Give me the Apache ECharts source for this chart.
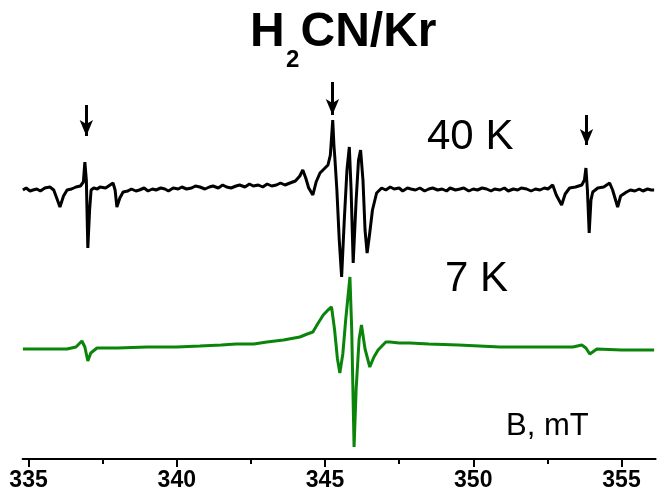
<!DOCTYPE html>
<html>
<head>
<meta charset="utf-8">
<script src="https://cdn.jsdelivr.net/npm/echarts@6/dist/echarts.min.js"></script>
<style>
html, body { margin: 0; padding: 0; background: #fff; }
#chart { width: 657px; height: 493px; }
</style>
</head>
<body>
<div id="chart"></div>
<script>
// magnetic field, mT
var majorTicks = [335, 340, 345, 350, 355];
var minorTicks = [337.5, 342.5, 347.5, 352.5];

// 40 K spectrum (black), amplitude relative to its baseline, a.u.
var blackB = [334.81, 334.92, 335.05, 335.15, 335.28, 335.4, 335.55, 335.72, 335.85, 335.95, 336.06, 336.18, 336.3, 336.45, 336.6, 336.75, 336.85, 336.9, 336.95, 337.0, 337.06, 337.11, 337.2, 337.32, 337.41, 337.6, 337.75, 337.85, 337.92, 337.98, 338.08, 338.19, 338.35,
  338.47, 338.62, 338.74, 338.9, 339.03, 339.18, 339.3, 339.46, 339.6, 339.72, 339.88, 340.05, 340.17, 340.33, 340.5, 340.63, 340.78, 340.95, 341.1, 341.22, 341.4, 341.55, 341.68, 341.83, 342.0, 342.12, 342.3, 342.45, 342.58, 342.75, 342.9, 343.05, 343.2, 343.36, 343.5, 343.65, 343.82,
  344.0, 344.15, 344.25, 344.35, 344.45, 344.59, 344.7, 344.83, 345.0, 345.1, 345.18, 345.26, 345.3, 345.33, 345.4, 345.48, 345.56, 345.65, 345.74, 345.82, 345.88, 345.95, 346.05, 346.13, 346.2, 346.28, 346.35, 346.42, 346.5, 346.6, 346.74, 346.91,
  347.05, 347.2, 347.33, 347.5, 347.62, 347.78, 347.9, 348.05, 348.2, 348.36, 348.5, 348.63, 348.8, 348.95, 349.1, 349.22, 349.4, 349.55, 349.68, 349.85, 350.0, 350.14, 350.3, 350.45, 350.6, 350.72, 350.9, 351.05, 351.18, 351.35, 351.5, 351.62, 351.8, 351.95, 352.1, 352.25, 352.4, 352.52,
  352.68, 352.8, 352.98, 353.1, 353.25, 353.45, 353.66, 353.75, 353.8, 353.85, 353.91, 353.97, 354.03, 354.2, 354.4, 354.6, 354.7, 354.87, 354.97, 355.17, 355.3, 355.45, 355.6, 355.72, 355.88, 356.0, 356.1];
var blackAmp = [0, 2, -1, 0, 1, -1, 2, 3, 0, -8, -17, -6, 0, 1, 3, 4, 8, 28, 10, -58, -20, 0, 2, 1, 3, 2, 5, 7, 0, -17, -8, -2, -1,
  1, -1, 0, 2, -1, 1, 0, 2, 1, -1, 2, 1, 3, 1, 2, 4, 3, 1, 3, 4, 2, 5, 3, 2, 4, 5, 3, 6, 4, 5, 3, 6, 4, 5, 7, 5, 7,
  9, 14, 20, 12, 2, -5, 8, 17, 22, 25, 35, 70, 45, 33, 0, -50, -87, -30, 20, 43, 0, -73, -10, 30, 40, 10, -40, -63, -45, -20, -3, 2,
  0, 3, 1, 2, -1, 2, 1, 0, 2, -1, 1, 2, 0, 1, -1, 2, 0, 1, 2, -1, 1, 0, 2, 1, -1, 1, 0, 2, -1, 1, 0, 2, 1, -1, 1, 0, 2, 1,
  5, -5, -15, -4, 2, 3, 5, 10, 22, 0, -43, -10, -2, 2, 3, 7, 0, -17, -6, -2, 0, -1, 1, -1, 1, 0, 0];

// 7 K spectrum (green)
var greenB = [334.81, 335.5, 336.3, 336.6, 336.8, 336.9, 337.0, 337.1, 337.31, 338.0, 339.0, 340.0, 340.78, 341.5, 342.0, 342.6, 343.04, 343.6, 344.15, 344.4, 344.59, 344.75, 344.94, 345.1, 345.22, 345.32, 345.42, 345.5, 345.6, 345.7, 345.84, 345.9, 345.98, 346.05, 346.15, 346.23, 346.35, 346.51, 346.65, 346.79, 347.05, 347.19, 347.5, 347.86, 348.5, 349.5, 350.2, 350.9, 352.0, 353.36, 353.66, 353.8, 353.93, 354.17, 355.0, 356.1];
var greenAmp = [0, 0, 0, 2, 8, 2, -12, -4, 1, 1, 2, 2, 3, 4, 5, 5, 7, 9, 12, 15, 17, 25, 34, 39, 42, 20, -10, -24, -5, 30, 72, 20, -98, -40, 10, 24, 0, -18, -8, -1, 7, 7, 6, 6, 5, 4, 3, 2, 2, 2, 4, 1, -5, 0, -1, -1];

// vertical placement of each trace on the hidden axis
var blackOffset = 269;
var greenOffset = 110;

// arrows marking the lines
var arrowB = [336.95, 345.25, 353.82];
var arrowTop = [354, 377, 344];
var arrowTip = [323, 344, 314];

function zip(xs, ys, off) {
  return xs.map(function (x, i) { return [x, ys[i] + off]; });
}

var chart = echarts.init(document.getElementById('chart'));
var font = '"Liberation Sans", Arial, sans-serif';

chart.setOption({
  animation: false,
  grid: { left: 22.6, right: 1.4, top: 0, bottom: 34, outerBoundsMode: 'none' },
  xAxis: [{
    type: 'value', min: 334.8, max: 356.15, position: 'bottom',
    axisLine: { onZero: false, lineStyle: { color: '#000', width: 2 } },
    axisTick: { customValues: majorTicks, length: 8, lineStyle: { color: '#000', width: 2 } },
    axisLabel: {
      customValues: majorTicks, color: '#000', fontSize: 23, fontWeight: 'bold', fontFamily: font, margin: 10,
      alignMinLabel: 'center', alignMaxLabel: 'center', hideOverlap: false
    },
    splitLine: { show: false }
  }, {
    type: 'value', min: 334.8, max: 356.15, position: 'bottom',
    axisLine: { show: false },
    axisTick: { customValues: minorTicks, length: 5, lineStyle: { color: '#000', width: 2 } },
    axisLabel: { show: false },
    splitLine: { show: false }
  }],
  yAxis: { type: 'value', min: 0, max: 459, show: false },
  series: [{
    type: 'line', name: '40 K', symbol: 'none',
    lineStyle: { color: '#000', width: 3 },
    data: zip(blackB, blackAmp, blackOffset),
    markLine: {
      silent: true, symbol: ['none', 'arrow'], symbolSize: [10, 16],
      lineStyle: { color: '#000', width: 3, type: 'solid' },
      label: { show: false },
      data: arrowB.map(function (b, i) {
        return [{ coord: [b, arrowTop[i]] }, { coord: [b, arrowTip[i]] }];
      })
    }
  }, {
    type: 'line', name: '7 K', symbol: 'none',
    lineStyle: { color: '#0a850a', width: 3 },
    data: zip(greenB, greenAmp, greenOffset)
  }],
  graphic: [
    { type: 'text', style: { text: 'H', x: 250, y: 33, font: 'bold 48px ' + font, fill: '#000', verticalAlign: 'middle' } },
    { type: 'text', style: { text: '2', x: 286, y: 60, font: 'bold 24px ' + font, fill: '#000', verticalAlign: 'middle' } },
    { type: 'text', style: { text: 'CN/Kr', x: 300.5, y: 33, font: 'bold 48px ' + font, fill: '#000', verticalAlign: 'middle' } },
    { type: 'text', style: { text: '40 K', x: 427, y: 137, font: '42px ' + font, fill: '#000', verticalAlign: 'middle' } },
    { type: 'text', style: { text: '7 K', x: 445, y: 279, font: '42px ' + font, fill: '#000', verticalAlign: 'middle' } },
    { type: 'text', style: { text: 'B, mT', x: 506, y: 426, font: '31px ' + font, fill: '#000', verticalAlign: 'middle' } }
  ]
});
</script>
</body>
</html>
